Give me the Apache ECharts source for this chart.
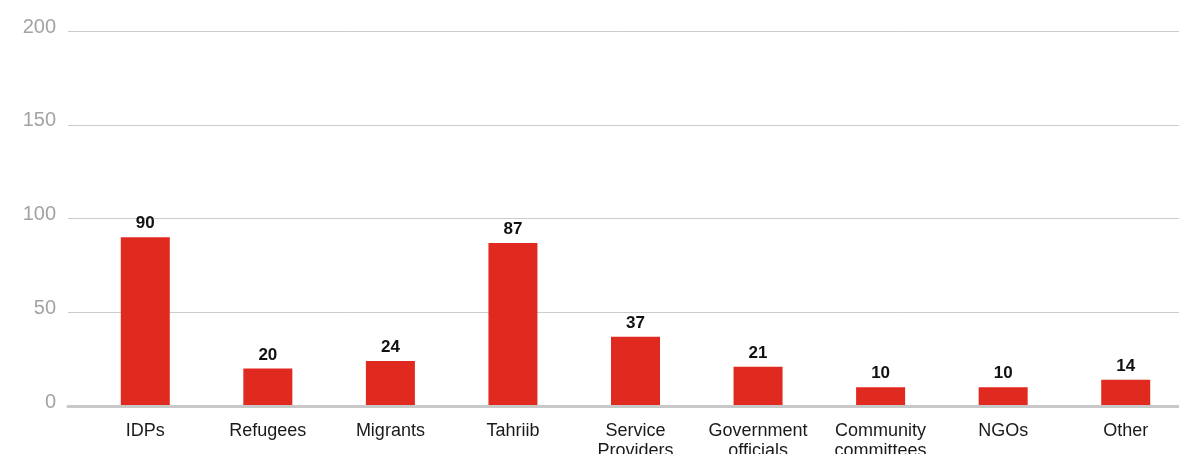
<!DOCTYPE html>
<html>
<head>
<meta charset="utf-8">
<script src="https://cdn.jsdelivr.net/npm/echarts@6/dist/echarts.min.js"></script>
<style>
  html, body { margin: 0; padding: 0; background: #ffffff; }
  #chart { width: 1179px; height: 454px; }
</style>
</head>
<body>
<div id="chart"></div>
<script>
// data
const categories = ['IDPs', 'Refugees', 'Migrants', 'Tahriib', 'Service\nProviders',
  'Government\nofficials', 'Community\ncommittees', 'NGOs', 'Other'];
const counts = [90, 20, 24, 87, 37, 21, 10, 10, 14];
const yTicks = { min: 0, max: 200, interval: 50 };

const font = '"Liberation Sans", Arial, Helvetica, sans-serif';
const barRed = '#e0291f';

const chart = echarts.init(document.getElementById('chart'));

chart.setOption({
  animation: false,
  // grid 0 carries the value axis + gridlines, grid 1 carries the bars (offset a bit to the right)
  grid: [
    { left: 68, right: 0, top: 31, bottom: 48, outerBoundsMode: 'none' },
    { left: 84, width: 1103, top: 31, bottom: 48, outerBoundsMode: 'none' }
  ],
  xAxis: [
    {
      gridIndex: 0,
      type: 'category',
      data: categories,
      z: 5,
      axisLine: { show: true, lineStyle: { color: '#c8c8c8', width: 3 } },
      axisTick: { show: false },
      axisLabel: { show: false },
      splitLine: { show: false }
    },
    {
      gridIndex: 1,
      type: 'category',
      data: categories,
      axisLine: { show: false },
      axisTick: { show: false },
      axisLabel: {
        interval: 0,
        margin: 15,
        color: '#1a1a1a',
        fontFamily: font,
        fontSize: 18,
        lineHeight: 20
      }
    }
  ],
  yAxis: [
    {
      gridIndex: 0,
      type: 'value',
      min: yTicks.min,
      max: yTicks.max,
      interval: yTicks.interval,
      axisLine: { show: false },
      axisTick: { show: false },
      axisLabel: {
        margin: 12,
        color: '#a3a3a3',
        fontFamily: font,
        fontSize: 20,
        verticalAlign: 'bottom',
        lineHeight: 8
      },
      splitLine: { lineStyle: { color: '#cccccc', width: 1 } }
    },
    {
      gridIndex: 1,
      type: 'value',
      min: yTicks.min,
      max: yTicks.max,
      interval: yTicks.interval,
      show: false
    }
  ],
  series: [
    {
      type: 'bar',
      xAxisIndex: 1,
      yAxisIndex: 1,
      data: counts,
      barWidth: 49,
      itemStyle: { color: barRed },
      label: {
        show: true,
        position: 'top',
        distance: 5,
        color: '#111111',
        fontFamily: font,
        fontWeight: 'bold',
        fontSize: 17
      }
    }
  ]
});
</script>
</body>
</html>
